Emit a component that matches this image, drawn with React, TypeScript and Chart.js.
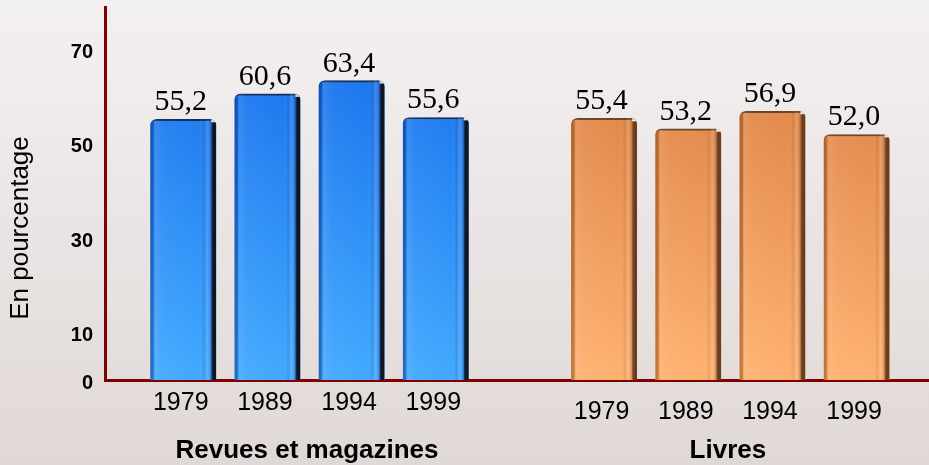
import React, { useEffect, useRef } from "react";
import { Chart, registerables } from "chart.js";

Chart.register(...registerables);

// ---- data ----
const years = ["1979", "1989", "1994", "1999"];
const groupNames = ["Revues et magazines", "Livres"];
const revuesValues = [55.2, 60.6, 63.4, 55.6];
const livresValues = [55.4, 53.2, 56.9, 52.0];
const yTickValues = [0, 10, 30, 50, 70];
const yTitle = "En pourcentage";

// ---- styles ----
const SANS = "'Liberation Sans', Arial, sans-serif";
const SERIF = "'Liberation Serif', 'Times New Roman', serif";
const AXIS_RED = "#800000";
const SHADOW_W = 5;

const palettes = [
  {
    top: "rgb(28,118,238)",
    bottom: "rgb(66,170,255)",
    shade: "rgba(0,35,120,",
    shadowA: "rgb(30,60,115)",
    shadowB: "rgb(14,22,36)",
    border: "rgb(18,45,95)",
  },
  {
    top: "rgb(222,132,72)",
    bottom: "rgb(255,178,112)",
    shade: "rgba(120,50,0,",
    shadowA: "rgb(150,90,45)",
    shadowB: "rgb(105,62,32)",
    border: "rgb(110,65,35)",
  },
];

const seriesValues = [revuesValues, livresValues];
const slotOf = (g: number, i: number) => g * (years.length + 1) + i;

const fmt = (v: number) => v.toFixed(1).replace(".", ",");

const backgroundPlugin = {
  id: "bgGradient",
  beforeDraw(chart: any) {
    const { ctx, width, height } = chart;
    const g = ctx.createLinearGradient(0, 0, 0, height);
    g.addColorStop(0, "#F3F1F0");
    g.addColorStop(1, "#E0D8D7");
    ctx.save();
    ctx.fillStyle = g;
    ctx.fillRect(0, 0, width, height);
    ctx.restore();
  },
};

const barDecorPlugin = {
  id: "barDecor",
  afterDatasetsDraw(chart: any) {
    const { ctx } = chart;
    chart.data.datasets.forEach((ds: any, di: number) => {
      const pal = palettes[di];
      const meta = chart.getDatasetMeta(di);
      meta.data.forEach((el: any, i: number) => {
        const { x, y, base, width } = el.getProps(["x", "y", "base", "width"], true);
        const left = x - width / 2;
        const right = x + width / 2;
        const cw = width - SHADOW_W;
        ctx.save();
        ctx.beginPath();
        (ctx as any).roundRect(left, y, width, base - y, [6, 6, 0, 0]);
        ctx.clip();
        const h = ctx.createLinearGradient(left, 0, left + cw, 0);
        h.addColorStop(0, pal.shade + "0.55)");
        h.addColorStop(0.05, pal.shade + "0.35)");
        h.addColorStop(0.09, "rgba(255,255,255,0.10)");
        h.addColorStop(0.2, "rgba(255,255,255,0.04)");
        h.addColorStop(0.8, "rgba(255,255,255,0)");
        h.addColorStop(0.88, pal.shade + "0.12)");
        h.addColorStop(0.93, "rgba(255,255,255,0.12)");
        h.addColorStop(1, pal.shade + "0.35)");
        ctx.fillStyle = h;
        ctx.fillRect(left, y, cw, base - y);
        const s = ctx.createLinearGradient(right - SHADOW_W, 0, right, 0);
        s.addColorStop(0, pal.shadowA);
        s.addColorStop(0.4, pal.shadowB);
        s.addColorStop(1, pal.shadowB);
        ctx.fillStyle = "#EFECEB";
        ctx.fillRect(right - SHADOW_W, y, SHADOW_W, 3);
        ctx.fillStyle = s;
        ctx.fillRect(right - SHADOW_W, y + 3, SHADOW_W, base - y - 3);
        ctx.restore();

        ctx.save();
        ctx.font = `30px ${SERIF}`;
        ctx.fillStyle = "#000";
        ctx.textAlign = "center";
        ctx.textBaseline = "alphabetic";
        ctx.fillText(fmt(seriesValues[di][i]), x - SHADOW_W / 2, y - 9);
        ctx.restore();
      });
    });
  },
};

const xLabelsPlugin = {
  id: "xLabels",
  afterDraw(chart: any) {
    const { ctx } = chart;
    const xs = chart.scales.x;
    const bottom = chart.chartArea.bottom;
    const yearOffsets = [23, 32];
    const groupOffset = 71;
    ctx.save();
    ctx.fillStyle = "#000";
    ctx.textAlign = "center";
    ctx.textBaseline = "middle";
    groupNames.forEach((name, g) => {
      const px = years.map((_, i) => xs.getPixelForValue(slotOf(g, i)));
      ctx.font = `25px ${SANS}`;
      years.forEach((yr, i) => {
        ctx.fillText(yr, px[i] - SHADOW_W / 2, bottom + yearOffsets[g]);
      });
      ctx.font = `bold 26px ${SANS}`;
      const cx = (px[0] + px[px.length - 1]) / 2 - SHADOW_W / 2;
      ctx.fillText(name, cx, bottom + groupOffset);
    });
    ctx.translate(28, 228);
    ctx.rotate(-Math.PI / 2);
    ctx.font = `26px ${SANS}`;
    ctx.textBaseline = "alphabetic";
    ctx.fillText(yTitle, 0, 0);
    ctx.restore();
  },
};

export default function App() {
  const ref = useRef<HTMLCanvasElement | null>(null);

  useEffect(() => {
    document.body.style.margin = "0";
    const canvas = ref.current;
    if (!canvas) return;

    const datasets = seriesValues.map((vals, g) => {
      const pal = palettes[g];
      return {
        label: groupNames[g],
        data: vals.map((v, i) => ({ x: slotOf(g, i), y: v })),
        grouped: false,
        barThickness: 66,
        borderRadius: { topLeft: 6, topRight: 6, bottomLeft: 0, bottomRight: 0 },
        borderSkipped: "bottom",
        borderWidth: { top: 2, left: 0, right: 0, bottom: 0 },
        borderColor: pal.border,
        backgroundColor: (c: any) => {
          const chart = c.chart;
          const area = chart.chartArea;
          if (!area) return pal.bottom;
          const y0 = chart.scales.y.getPixelForValue(64);
          const gr = chart.ctx.createLinearGradient(0, y0, 0, area.bottom);
          gr.addColorStop(0, pal.top);
          gr.addColorStop(1, pal.bottom);
          return gr;
        },
      };
    });

    const chart = new Chart(canvas, {
      type: "bar",
      data: { datasets: datasets as any },
      options: {
        animation: false,
        responsive: false,
        layout: { padding: { top: 7, right: 0, left: 0, bottom: 0 } },
        plugins: {
          legend: { display: false },
          tooltip: { enabled: false },
        },
        scales: {
          x: {
            type: "linear",
            min: -0.93,
            max: 8.86,
            offset: false,
            grid: { display: false, drawTicks: false },
            ticks: { display: false },
            border: { display: true, color: AXIS_RED, width: 3 },
            afterFit: (s: any) => {
              s.height = 85;
              s.paddingLeft = 0;
              s.paddingRight = 0;
            },
          },
          y: {
            min: 0,
            max: 79,
            grid: { display: false, drawTicks: false, tickLength: 0 },
            border: { display: true, color: AXIS_RED, width: 3 },
            ticks: {
              padding: 12,
              labelOffset: 3,
              color: "#000",
              font: { family: SANS, size: 20, weight: "bold" },
              callback: (v: any) => String(v),
            },
            afterBuildTicks: (s: any) => {
              s.ticks = yTickValues.map((v) => ({ value: v }));
            },
            afterFit: (s: any) => {
              s.width = 105;
              s.paddingTop = 0;
              s.paddingBottom = 0;
            },
          },
        },
      },
      plugins: [backgroundPlugin, barDecorPlugin, xLabelsPlugin],
    });

    return () => chart.destroy();
  }, []);

  return (
    <div style={{ width: 929, height: 465 }}>
      <canvas ref={ref} width={929} height={465} style={{ display: "block" }} />
    </div>
  );
}
